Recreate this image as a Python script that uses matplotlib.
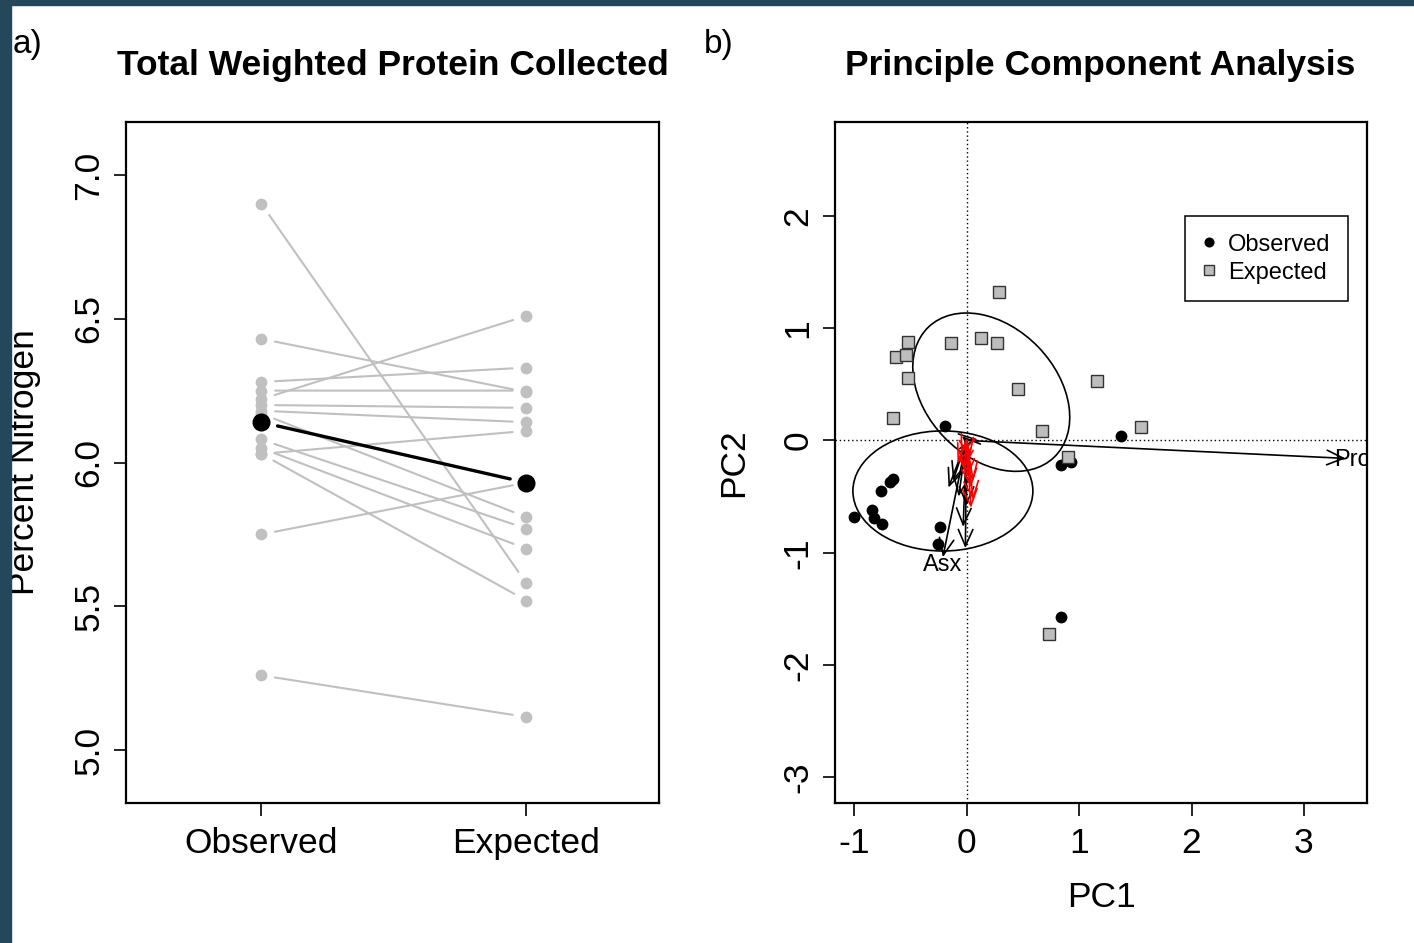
import numpy as np
import matplotlib
matplotlib.use("Agg")
import matplotlib.pyplot as plt
from matplotlib.patches import Ellipse, Rectangle

plt.rcParams['font.family'] = ['Liberation Sans', 'DejaVu Sans']
plt.rcParams['axes.unicode_minus'] = False

# panel a: percent nitrogen per sample, observed vs expected
groups = ["Observed", "Expected"]
obs_n = [6.90, 6.43, 6.28, 6.25, 6.22, 6.20, 6.18, 6.17, 6.08, 6.05, 6.03, 6.03, 5.75, 5.26]
exp_n = [5.58, 6.245, 6.33, 6.25, 6.51, 6.19, 6.14, 5.81, 5.77, 5.70, 5.52, 6.11, 5.93, 5.115]
mean_n = [6.14, 5.93]
y_ticks_a = [5.0, 5.5, 6.0, 6.5, 7.0]

# panel b: PCA scores
obs_pc1 = [-0.19, -1.00, -0.76, -0.68, -0.65, -0.84, -0.82, -0.75, -0.24, -0.25, 0.84, 0.93, 1.37, 0.84]
obs_pc2 = [0.13, -0.68, -0.45, -0.37, -0.34, -0.62, -0.69, -0.74, -0.77, -0.92, -0.22, -0.19, 0.04, -1.57]
exp_pc1 = [-0.52, -0.63, -0.54, -0.52, -0.65, -0.14, 0.13, 0.27, 0.46, 0.67, 0.90, 0.29, 1.16, 1.55, 0.73]
exp_pc2 = [0.88, 0.74, 0.76, 0.56, 0.20, 0.87, 0.91, 0.87, 0.46, 0.08, -0.15, 1.32, 0.53, 0.12, -1.72]

# variable loadings (arrows from the origin)
load_x = [-0.21, 3.37, -0.01, -0.03, 0.00, -0.16, -0.12, 0.10, -0.04, -0.07,
          0.04, 0.06, 0.04, -0.05, -0.08, 0.01, 0.06, -0.02, 0.03]
load_y = [-1.04, -0.16, -0.96, -0.77, -0.58, -0.42, -0.36, 0.01, 0.04, -0.50,
          -0.60, -0.53, -0.42, -0.12, -0.20, -0.33, -0.36, -0.25, -0.15]
load_col = ["black"] * 10 + ["red"] * 9
load_labels = {"Asx": (-0.21, -1.11), "Pro": (3.43, -0.17)}

# group ellipses: centre, full width, full height, angle
ell_obs = ((-0.21, -0.45), 1.60, 1.07, 0)
ell_exp = ((0.22, 0.43), 1.61, 1.16, -46)

pc_xticks = [-1, 0, 1, 2, 3]
pc_yticks = [-3, -2, -1, 0, 1, 2]

W, H = 1414, 943
fig = plt.figure(figsize=(W / 100, H / 100), dpi=100)
fig.patches.append(Rectangle((0, 1 - 5 / H), 1, 5 / H, transform=fig.transFigure,
                             color="#24475a", zorder=0))
fig.patches.append(Rectangle((0, 0), 11 / W, 1, transform=fig.transFigure,
                             color="#24475a", zorder=0))

ax1 = fig.add_axes([126 / W, 140 / H, 533 / W, 681 / H])
ax2 = fig.add_axes([835 / W, 140 / H, 532 / W, 681 / H])

grey = "#c0c0c0"
xs = [1, 2]
for o, e in zip(obs_n, exp_n):
    ax1.annotate("", xy=(2, e), xytext=(1, o),
                 arrowprops=dict(arrowstyle="-", color=grey, lw=1.5, shrinkA=10, shrinkB=10))
ax1.plot([1] * len(obs_n), obs_n, "o", color=grey, ms=8.5, mec="none")
ax1.plot([2] * len(exp_n), exp_n, "o", color=grey, ms=8.5, mec="none")
ax1.annotate("", xy=(2, mean_n[1]), xytext=(1, mean_n[0]),
             arrowprops=dict(arrowstyle="-", color="black", lw=2.4, shrinkA=12, shrinkB=12))
ax1.plot(xs, mean_n, "o", color="black", ms=13, mec="none")

ax1.set_xlim(0.49, 2.50)
ax1.set_ylim(4.816, 7.184)
ax1.set_xticks(xs)
ax1.set_xticklabels(groups)
ax1.set_yticks(y_ticks_a)
ax1.set_yticklabels([f"{v:.1f}" for v in y_ticks_a], rotation=90, va="center")
ax1.set_ylabel("Percent Nitrogen", fontsize=25.5)
ax1.yaxis.set_label_coords(-0.16, 0.5)

# PCA biplot
ax2.axhline(0, color="black", lw=1, ls=(0, (1, 2)), zorder=1)
ax2.axvline(0, color="black", lw=1, ls=(0, (1, 2)), zorder=1)
for (c, w, h, a) in (ell_obs, ell_exp):
    ax2.add_patch(Ellipse(c, w, h, angle=a, fill=False, ec="black", lw=1.2, zorder=2))
ax2.plot(obs_pc1, obs_pc2, "o", color="black", ms=8.5, mec="none", zorder=3, label="Observed")
ax2.plot(exp_pc1, exp_pc2, "s", color="#bdbdbd", ms=8.5, mec="#333333", mew=1,
         zorder=3, label="Expected")
for x, y, c in zip(load_x, load_y, load_col):
    ax2.annotate("", xy=(x, y), xytext=(0, 0), zorder=4,
                 arrowprops=dict(arrowstyle="->,head_length=0.8,head_width=0.35",
                                 mutation_scale=15, color=c, lw=1.2,
                                 shrinkA=0, shrinkB=0))
for name, (x, y) in load_labels.items():
    ax2.text(x, y, name, ha="center", va="center", fontsize=17, clip_on=True, zorder=5)

ax2.set_xlim(-1.169, 3.56)
ax2.set_ylim(-3.23, 2.837)
ax2.set_xticks(pc_xticks)
ax2.set_yticks(pc_yticks)
ax2.set_yticklabels([str(v) for v in pc_yticks], rotation=90, va="center")
ax2.set_xlabel("PC1", fontsize=25.5)
ax2.set_ylabel("PC2", fontsize=25.5)
ax2.xaxis.set_label_coords(0.5, -0.115)
ax2.yaxis.set_label_coords(-0.16, 0.5)
leg = ax2.legend(loc="upper right", bbox_to_anchor=(0.964, 0.862), borderaxespad=0,
                 fontsize=17, fancybox=False, framealpha=1, edgecolor="black",
                 handlelength=0.5, handletextpad=0.55, labelspacing=0.25,
                 borderpad=0.75, markerscale=0.85)
leg.get_frame().set_linewidth(1.1)

for ax in (ax1, ax2):
    for s in ax.spines.values():
        s.set_linewidth(1.6)
    ax.tick_params(direction="out", length=9, width=1.2, labelsize=25.5, pad=8)
    ax.tick_params(axis="y", pad=6)

fig.text(393 / W, 1 - 65 / H, "Total Weighted Protein Collected", ha="center",
         va="center", fontsize=25.5, fontweight="bold")
fig.text(1100 / W, 1 - 65 / H, "Principle Component Analysis", ha="center",
         va="center", fontsize=25.5, fontweight="bold")
fig.text(27 / W, 1 - 45 / H, "a)", ha="center", va="center", fontsize=24)
fig.text(719 / W, 1 - 45 / H, "b)", ha="center", va="center", fontsize=24)

fig.savefig("out.png", dpi=100)
